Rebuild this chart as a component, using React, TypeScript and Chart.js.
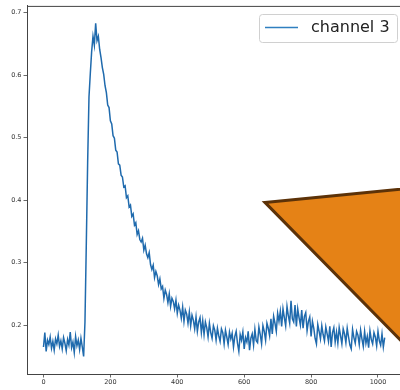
import React, { useEffect, useRef } from "react";
import { Chart, registerables } from "chart.js";

Chart.register(...registerables);

const SERIES_LABEL = "channel 3";
const X_STEP = 4;
const channel3: number[] = [
  0.165, 0.188, 0.158, 0.176, 0.169, 0.181, 0.163, 0.174, 0.160, 0.178,
  0.170, 0.184, 0.166, 0.175, 0.162, 0.180, 0.171, 0.159, 0.177, 0.168,
  0.189, 0.164, 0.173, 0.156, 0.182, 0.167, 0.176, 0.161, 0.179, 0.165,
  0.150, 0.205, 0.330, 0.460, 0.565, 0.603, 0.638, 0.662, 0.648, 0.683,
  0.655, 0.662, 0.641, 0.628, 0.612, 0.601, 0.583, 0.572, 0.552, 0.548,
  0.527, 0.522, 0.503, 0.499, 0.480, 0.477, 0.458, 0.456, 0.440, 0.437,
  0.421, 0.423, 0.404, 0.407, 0.389, 0.392, 0.374, 0.378, 0.360, 0.364,
  0.345, 0.351, 0.337, 0.333, 0.339, 0.320, 0.328, 0.314, 0.308, 0.316,
  0.297, 0.289, 0.296, 0.276, 0.286, 0.279, 0.265, 0.274, 0.258, 0.262,
  0.243, 0.256, 0.249, 0.236, 0.250, 0.230, 0.243, 0.238, 0.226, 0.240,
  0.219, 0.232, 0.224, 0.211, 0.229, 0.206, 0.224, 0.218, 0.203, 0.221,
  0.199, 0.216, 0.208, 0.194, 0.213, 0.190, 0.205, 0.212, 0.188, 0.207,
  0.185, 0.205, 0.196, 0.181, 0.203, 0.188, 0.179, 0.199, 0.192, 0.176,
  0.195, 0.183, 0.174, 0.194, 0.188, 0.170, 0.192, 0.181, 0.169, 0.189,
  0.178, 0.187, 0.165, 0.182, 0.190, 0.171, 0.158, 0.185, 0.176, 0.189,
  0.162, 0.180, 0.173, 0.190, 0.160, 0.179, 0.186, 0.168, 0.193, 0.175,
  0.172, 0.197, 0.185, 0.170, 0.199, 0.190, 0.176, 0.203, 0.195, 0.183,
  0.210, 0.186, 0.214, 0.203, 0.190, 0.219, 0.206, 0.222, 0.198, 0.226,
  0.212, 0.199, 0.230, 0.215, 0.203, 0.239, 0.210, 0.205, 0.232, 0.198,
  0.226, 0.212, 0.200, 0.224, 0.195, 0.214, 0.220, 0.191, 0.206, 0.213,
  0.182, 0.206, 0.195, 0.179, 0.170, 0.201, 0.190, 0.178, 0.199, 0.185,
  0.175, 0.197, 0.186, 0.174, 0.198, 0.165, 0.188, 0.196, 0.173, 0.189,
  0.171, 0.196, 0.183, 0.170, 0.194, 0.186, 0.172, 0.195, 0.181, 0.168,
  0.162, 0.193, 0.180, 0.171, 0.190, 0.184, 0.169, 0.192, 0.178, 0.166,
  0.190, 0.171, 0.182, 0.164, 0.191, 0.177, 0.170, 0.188, 0.181, 0.167,
  0.190, 0.175, 0.168, 0.186, 0.165, 0.180,
];

// triangle annotation vertices in data coordinates
const triangleX = [662, 1275, 1126];
const triangleY = [0.3963, 0.4282, 0.1441];

const X_MIN = -49.3;
const X_MAX = 1065.8;
const Y_MIN = 0.1218;
const Y_MAX = 0.7107;

const LINE_COLOR = "#1f6aad";
const LEGEND_LINE_COLOR = "#2f7fc0";
const AXIS_COLOR = "#444444";
const FONT = "'DejaVu Sans', sans-serif";

const trianglePlugin = {
  id: "triangle",
  afterDatasetsDraw(chart: any) {
    const { ctx, scales } = chart;
    const xs = scales.x;
    const ys = scales.y;
    ctx.save();
    ctx.beginPath();
    triangleX.forEach((xv, i) => {
      const px = xs.getPixelForValue(xv);
      const py = ys.getPixelForValue(triangleY[i]);
      if (i === 0) ctx.moveTo(px, py);
      else ctx.lineTo(px, py);
    });
    ctx.closePath();
    ctx.fillStyle = "#e58216";
    ctx.fill();
    ctx.lineWidth = 3;
    ctx.lineJoin = "miter";
    ctx.strokeStyle = "#5c3208";
    ctx.stroke();
    ctx.restore();
  },
};

const framePlugin = {
  id: "frame",
  afterDraw(chart: any) {
    const { ctx, chartArea } = chart;
    ctx.save();
    ctx.strokeStyle = AXIS_COLOR;
    ctx.lineWidth = 1;
    ctx.beginPath();
    ctx.moveTo(chartArea.left, chartArea.top + 0.5);
    ctx.lineTo(chartArea.right, chartArea.top + 0.5);
    ctx.stroke();

    const bx = 259.5, by = 14.5, bw = 138, bh = 28, r = 3;
    ctx.beginPath();
    ctx.moveTo(bx + r, by);
    ctx.lineTo(bx + bw - r, by);
    ctx.quadraticCurveTo(bx + bw, by, bx + bw, by + r);
    ctx.lineTo(bx + bw, by + bh - r);
    ctx.quadraticCurveTo(bx + bw, by + bh, bx + bw - r, by + bh);
    ctx.lineTo(bx + r, by + bh);
    ctx.quadraticCurveTo(bx, by + bh, bx, by + bh - r);
    ctx.lineTo(bx, by + r);
    ctx.quadraticCurveTo(bx, by, bx + r, by);
    ctx.closePath();
    ctx.fillStyle = "rgba(255,255,255,0.85)";
    ctx.fill();
    ctx.strokeStyle = "#d0d0d0";
    ctx.lineWidth = 1;
    ctx.stroke();

    const ds = chart.data.datasets[0];
    ctx.strokeStyle = LEGEND_LINE_COLOR;
    ctx.lineWidth = 1.5;
    ctx.beginPath();
    ctx.moveTo(265, 27.5);
    ctx.lineTo(298, 27.5);
    ctx.stroke();

    ctx.fillStyle = "#222222";
    ctx.font = `16px ${FONT}`;
    ctx.textBaseline = "middle";
    ctx.textAlign = "left";
    ctx.fillText(ds.label, 311, 28);
    ctx.restore();
  },
};

export default function App() {
  const ref = useRef<HTMLCanvasElement | null>(null);

  useEffect(() => {
    if (!ref.current) return;
    const points = channel3.map((v, i) => ({ x: i * X_STEP, y: v }));
    const chart = new Chart(ref.current, {
      type: "line",
      data: {
        datasets: [
          {
            label: SERIES_LABEL,
            data: points,
            borderColor: LINE_COLOR,
            backgroundColor: LINE_COLOR,
            borderWidth: 1.5,
            pointRadius: 0,
            tension: 0,
            fill: false,
          },
        ],
      },
      options: {
        animation: false,
        responsive: false,
        maintainAspectRatio: false,
        devicePixelRatio: 1,
        layout: { padding: { top: 5, left: 0, right: 0, bottom: 0 } },
        plugins: {
          legend: { display: false },
          tooltip: { enabled: false },
        },
        scales: {
          x: {
            type: "linear",
            min: X_MIN,
            max: X_MAX,
            afterFit: (s: any) => {
              s.height = 16;
            },
            ticks: {
              stepSize: 200,
              includeBounds: false,
              maxRotation: 0,
              autoSkip: false,
              padding: 1,
              color: "#333333",
              font: { family: FONT, size: 6.5 },
              callback: (v: any) => String(v),
            },
            grid: {
              drawOnChartArea: false,
              drawTicks: true,
              tickLength: 3.5,
              tickColor: AXIS_COLOR,
              tickWidth: 0.8,
            },
            border: { display: true, color: AXIS_COLOR, width: 1 },
          },
          y: {
            type: "linear",
            min: Y_MIN,
            max: Y_MAX,
            afterFit: (s: any) => {
              s.width = 27;
            },
            ticks: {
              stepSize: 0.1,
              includeBounds: false,
              padding: 2,
              color: "#333333",
              font: { family: FONT, size: 6.5 },
              callback: (v: any) => Number(v).toFixed(1),
            },
            grid: {
              drawOnChartArea: false,
              drawTicks: true,
              tickLength: 3.5,
              tickColor: AXIS_COLOR,
              tickWidth: 0.8,
            },
            border: { display: true, color: AXIS_COLOR, width: 1 },
          },
        },
      },
      plugins: [trianglePlugin, framePlugin],
    });
    return () => chart.destroy();
  }, []);

  return (
    <div style={{ position: "fixed", left: 0, top: 0, width: 400, height: 390, background: "#fff" }}>
      <canvas ref={ref} width={400} height={390} style={{ width: 400, height: 390, display: "block" }} />
    </div>
  );
}
